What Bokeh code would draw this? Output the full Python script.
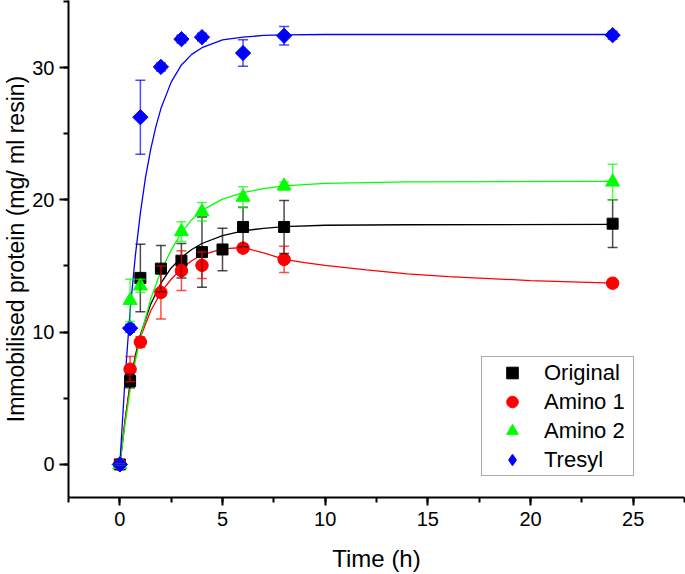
import math
from bokeh.plotting import figure
from bokeh.models import (Range1d, SingleIntervalTicker, Whisker, TeeHead,
                          ColumnDataSource, Legend, LegendItem)
from bokeh.embed import file_html
from bokeh.resources import INLINE

# ---------------- data ----------------
t_orig = [0, 0.5, 1, 2, 3, 4, 5, 6, 8, 24]
y_orig = [0, 6.3, 14.1, 14.8, 15.4, 16.05, 16.25, 17.95, 17.95, 18.2]
e_orig = [0, 0.5, 2.55, 1.75, 1.3, 2.65, 1.6, 1.5, 2.0, 1.8]

t_am1 = [0, 0.5, 1, 2, 3, 4, 6, 8, 24]
y_am1 = [0, 7.2, 9.25, 13.0, 14.65, 15.05, 16.35, 15.5, 13.7]
e_am1 = [0, 0.95, 0.4, 2.0, 1.5, 1.0, 0.3, 1.0, 0.3]

t_am2 = [0, 0.5, 1, 3, 4, 6, 8, 24]
y_am2 = [0, 12.4, 13.5, 17.6, 19.1, 20.2, 21.05, 21.35]
e_am2 = [0, 1.6, 0.5, 0.75, 0.7, 0.8, 0.3, 1.35]

t_tre = [0, 0.5, 1, 2, 3, 4, 6, 8, 24]
y_tre = [0, 10.3, 26.25, 30.05, 32.15, 32.3, 31.1, 32.4, 32.45]
e_tre = [0, 0.3, 2.8, 0.3, 0.3, 0.3, 1.0, 0.7, 0.3]

# fitted curves
ft_orig = [0, 0.25, 0.5, 0.75, 1, 1.5, 2, 2.5, 3, 3.5, 4, 5, 6, 7, 8, 10, 14, 24]
fy_orig = [0, 3.3, 6.1, 8.2, 9.8, 12.1, 13.7, 14.85, 15.65, 16.25, 16.7, 17.3,
           17.65, 17.85, 17.98, 18.08, 18.12, 18.15]

ft_am1 = [0, 0.25, 0.5, 0.75, 1, 1.5, 2, 2.5, 3, 3.5, 4, 5, 6, 7, 8, 9, 10, 12, 14, 16, 20, 24]
fy_am1 = [0, 3.2, 6.0, 8.0, 9.6, 11.6, 13.0, 14.0, 14.8, 15.4, 15.85, 16.3, 16.4,
          16.0, 15.5, 15.25, 15.05, 14.7, 14.4, 14.2, 13.9, 13.7]

ft_am2 = [0, 0.25, 0.5, 0.75, 1, 1.5, 2, 2.5, 3, 3.5, 4, 5, 6, 7, 8, 10, 14, 24]
fy_am2 = [0, 3.0, 5.6, 7.8, 9.6, 12.5, 14.6, 16.2, 17.5, 18.5, 19.2, 20.05, 20.55,
          20.85, 21.05, 21.25, 21.36, 21.4]

ft_tre = [0, 0.25, 0.5, 0.75, 1, 1.25, 1.5, 1.75, 2, 2.5, 3, 3.5, 4, 5, 6, 7, 8, 10, 14, 24]
fy_tre = [0, 6.4, 11.6, 15.7, 19.0, 21.7, 23.8, 25.5, 26.9, 28.9, 30.2, 31.0, 31.5,
          32.1, 32.3, 32.43, 32.47, 32.5, 32.5, 32.5]

names = ["Original", "Amino 1", "Amino 2", "Tresyl"]
colors = ["#000000", "#FF0000", "#00FF00", "#0000FF"]

x_ticks_interval = 5
y_ticks_interval = 10

FONT = "Liberation Sans"

p = figure(width=685, height=574,
           x_range=Range1d(-2.5, 27.5), y_range=Range1d(-2.5, 35.07),
           output_backend="svg", toolbar_location=None,
           min_border_left=68, min_border_right=1, min_border_top=0,
           min_border_bottom=77)
p.outline_line_color = None
p.xgrid.visible = False
p.ygrid.visible = False
p.background_fill_color = "white"

p.xaxis.ticker = SingleIntervalTicker(interval=x_ticks_interval, num_minor_ticks=2)
p.yaxis.ticker = SingleIntervalTicker(interval=y_ticks_interval, num_minor_ticks=2)
for ax in (p.xaxis, p.yaxis):
    ax.axis_line_width = 2
    ax.axis_line_color = "black"
    ax.major_tick_line_width = 2
    ax.minor_tick_line_width = 2
    ax.major_tick_in = 0
    ax.minor_tick_in = 0
    ax.major_label_text_font = FONT
    ax.major_label_text_font_size = "20px"
    ax.major_label_text_color = "black"
    ax.axis_label_text_font = FONT
    ax.axis_label_text_font_style = "normal"
    ax.axis_label_text_color = "black"

p.xaxis.major_tick_out = 8
p.xaxis.minor_tick_out = 5
p.yaxis.major_tick_out = 9
p.yaxis.minor_tick_out = 5
p.xaxis.major_label_standoff = 6
p.yaxis.major_label_standoff = 5
p.xaxis.axis_label = "Time (h)"
p.xaxis.axis_label_text_font_size = "24px"
p.xaxis.axis_label_standoff = 16
p.yaxis.axis_label = "Immobilised protein (mg/ ml resin)"
p.yaxis.axis_label_text_font_size = "23px"
p.yaxis.axis_label_standoff = 0

series = [
    (t_orig, y_orig, e_orig, ft_orig, fy_orig, dict(marker="square", size=11)),
    (t_am1, y_am1, e_am1, ft_am1, fy_am1, dict(marker="circle", size=12.5)),
    (t_am2, y_am2, e_am2, ft_am2, fy_am2, dict(marker="triangle", size=14)),
    (t_tre, y_tre, e_tre, ft_tre, fy_tre, dict(marker="square", size=10.8, angle=math.pi / 4)),
]

for (t, y, e, ft, fy, mk), name, c in zip(series, names, colors):
    p.line(ft, fy, line_color=c, line_width=1.3)

items = []
for (t, y, e, ft, fy, mk), name, c in zip(series, names, colors):
    src = ColumnDataSource(dict(t=t, y=y,
                                lo=[a - b for a, b in zip(y, e)],
                                hi=[a + b for a, b in zip(y, e)]))
    w = Whisker(base="t", lower="lo", upper="hi", source=src,
                line_color=c, line_alpha=0.7, line_width=1.5,
                upper_head=TeeHead(size=10, line_color=c, line_alpha=0.7, line_width=1.5),
                lower_head=TeeHead(size=10, line_color=c, line_alpha=0.7, line_width=1.5),
                level="glyph")
    p.add_layout(w)
    if mk.get("angle"):
        # legends draw markers unrotated, so the legend swatch uses a diamond
        # drawn underneath (fully covered by) the rotated squares
        lr = p.scatter("t", "y", source=src, marker="diamond", size=11,
                       fill_color=c, line_color=c, line_width=1)
        p.scatter("t", "y", source=src, fill_color=c, line_color=c, line_width=1, **mk)
    else:
        lr = p.scatter("t", "y", source=src, fill_color=c, line_color=c, line_width=1, **mk)
    items.append(LegendItem(label=name, renderers=[lr]))

legend = Legend(items=items, location=(413, 21),
                label_text_font=FONT, label_text_font_size="22px",
                label_text_color="black",
                glyph_width=58, glyph_height=29, label_height=29,
                label_width=88, label_standoff=3, spacing=0, padding=1,
                margin=0,
                border_line_color="#555555", border_line_width=1.5,
                background_fill_color="white", background_fill_alpha=1)
p.add_layout(legend, "center")

open("out.html", "w").write(file_html(p, INLINE))
